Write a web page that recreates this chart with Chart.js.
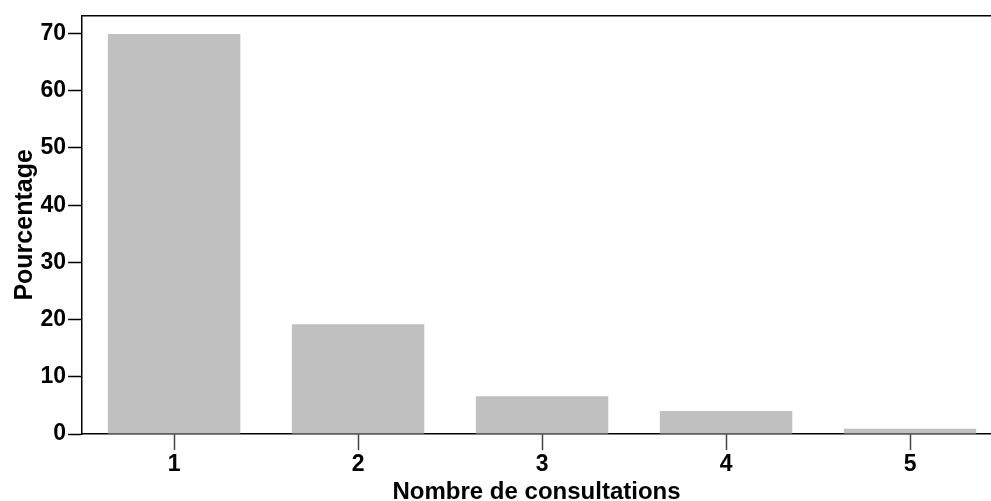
<!DOCTYPE html>
<html>
<head>
<meta charset="utf-8">
<script src="https://cdn.jsdelivr.net/npm/chart.js@4"></script>
<style>
  body { margin: 0; background: #fff; overflow: hidden; }
</style>
</head>
<body>
<canvas id="chart" width="991" height="501"></canvas>
<script>
const consultations = [1, 2, 3, 4, 5];
const pourcentages = [69.9, 19.2, 6.6, 4.0, 0.9];
const yTicks = [0, 10, 20, 30, 40, 50, 60, 70];

const FONT = "'Liberation Sans', Arial, sans-serif";

// top border of the plot frame
const frameTop = {
    id: 'frameTop',
    afterDraw(chart) {
        const { ctx, chartArea } = chart;
        ctx.save();
        ctx.strokeStyle = '#000';
        ctx.lineWidth = 1.5;
        ctx.beginPath();
        ctx.moveTo(chartArea.left, chartArea.top);
        ctx.lineTo(chartArea.right, chartArea.top);
        ctx.stroke();
        ctx.restore();
    }
};

new Chart(document.getElementById('chart'), {
    type: 'bar',
    data: {
        datasets: [{
            data: consultations.map((c, i) => ({ x: c, y: pourcentages[i] })),
            backgroundColor: '#c0c0c0',
            borderWidth: 0,
            barPercentage: 0.72,
            categoryPercentage: 1
        }]
    },
    options: {
        responsive: false,
        animation: false,
        layout: { padding: { top: 13, right: 0, left: 11, bottom: -5 } },
        plugins: { legend: { display: false }, tooltip: { enabled: false } },
        scales: {
            x: {
                type: 'linear',
                min: 0.5,
                max: 5.44,
                offset: false,
                grid: { offset: false, drawOnChartArea: false, tickLength: 16, tickColor: '#444', tickWidth: 1.5 },
                border: { color: '#000', width: 1.5 },
                ticks: {
                    stepSize: 1,
                    includeBounds: false,
                    color: '#000',
                    padding: 1,
                    font: { family: FONT, size: 23, weight: 'bold' },
                    callback: v => consultations.includes(v) ? v : ''
                },
                title: {
                    display: true,
                    text: 'Nombre de consultations',
                    color: '#000',
                    padding: { top: 0, bottom: 0 },
                    font: { family: FONT, size: 24, weight: 'bold', lineHeight: 1.1 }
                }
            },
            y: {
                min: 0,
                max: 73.1,
                grid: {
                    drawOnChartArea: false,
                    tickLength: 14,
                    tickWidth: 1.5,
                    tickColor: c => yTicks.includes(c.tick.value) ? '#000' : '#aaa'
                },
                border: { color: '#000', width: 1.5 },
                ticks: {
                    stepSize: 5,
                    includeBounds: false,
                    color: '#000',
                    padding: 2,
                    font: { family: FONT, size: 23, weight: 'bold' },
                    callback: v => yTicks.includes(v) ? v : ''
                },
                title: {
                    display: true,
                    text: 'Pourcentage',
                    color: '#000',
                    padding: { top: 0, bottom: 0 },
                    font: { family: FONT, size: 25, weight: 'bold', lineHeight: 1.1 }
                }
            }
        }
    },
    plugins: [frameTop]
});
</script>
</body>
</html>
